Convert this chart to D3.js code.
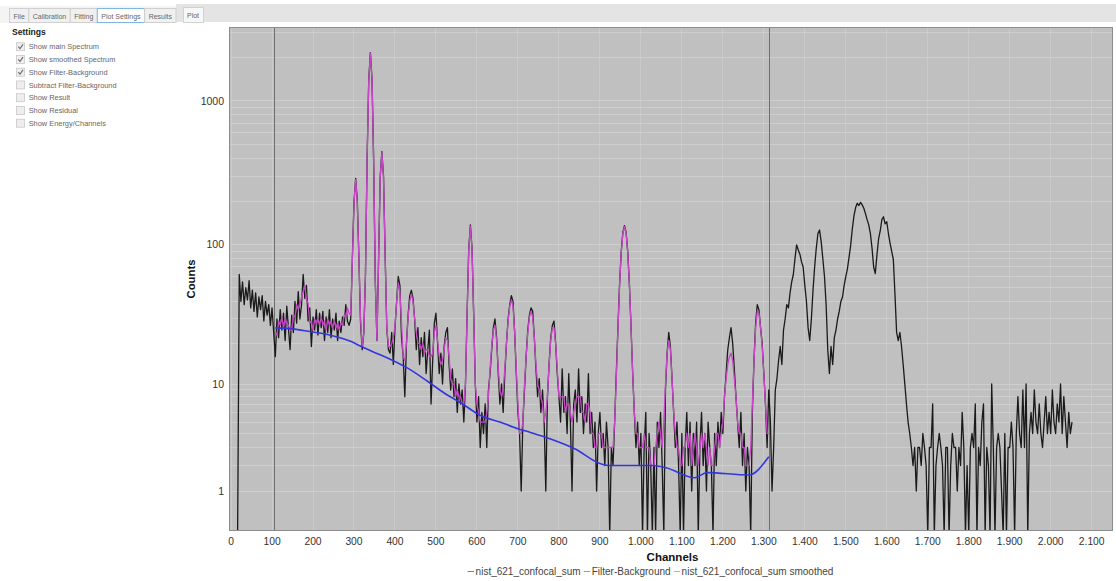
<!DOCTYPE html>
<html>
<head>
<meta charset="utf-8">
<script src="https://cdn.jsdelivr.net/npm/d3@7"></script>
<style>
  html, body { margin: 0; padding: 0; background: #ffffff; }
  svg { display: block; font-family: "Liberation Sans", Arial, sans-serif; }
</style>
</head>
<body>
<svg id="chart" width="1116" height="581"></svg>
<script>
// ---- spectrum data -------------------------------------------------------
// main spectrum, one value every 4 channels starting at channel 0
const channelStep = 4;
const counts = [
  0, 0, 0, 0, 0, 62, 40, 55, 38, 50, 41, 56, 36, 48, 34, 46, 31, 43, 35, 44, 29, 40, 32, 38, 27,
  36, 24, 16, 30, 22, 35, 25, 33, 21, 37, 26, 18, 32, 24, 40, 28, 47, 30, 38, 62, 42, 52, 29, 36, 19,
  31, 25, 35, 23, 33, 26, 34, 21, 31, 24, 35, 22, 30, 25, 33, 21, 29, 24, 31, 27, 38, 29, 27, 30, 80,
  200, 290, 205, 80, 28, 18, 24, 62, 400, 1400, 2160, 1400, 380, 55, 21, 80, 300, 445, 300, 85, 26, 18, 17, 24, 14,
  26, 40, 60, 52, 22, 16, 8, 20, 32, 44, 48, 42, 30, 18, 26, 14, 22, 16, 24, 12, 18, 25, 7, 15, 28,
  33, 20, 12, 17, 10, 19, 24, 26, 14, 9, 13, 8, 11, 6, 10, 7, 9, 5, 10, 33, 94, 138, 94, 33, 10,
  5, 8, 3, 6, 4, 7, 3, 9, 12, 18, 26, 30, 22, 12, 7, 10, 6, 12, 20, 30, 38, 44, 40, 24, 12,
  6, 4, 1, 5, 9, 16, 25, 32, 36, 34, 22, 13, 8, 11, 6, 9, 5, 1, 8, 14, 22, 27, 29, 20, 12,
  8, 5, 13, 6, 8, 4, 12, 5, 1, 7, 9, 5, 13, 6, 8, 4, 7, 5, 12, 4, 6, 3, 5, 1, 4,
  6, 3, 4, 2, 5, 3, 0, 3, 2, 5, 12, 26, 53, 89, 122, 136, 122, 89, 53, 26, 12, 6, 3, 5, 2,
  4, 0, 3, 6, 0, 4, 2, 0, 3, 0, 5, 3, 6, 2, 0, 9, 17, 24, 19, 11, 6, 3, 5, 2, 0,
  4, 0, 3, 6, 2, 5, 1, 4, 2, 5, 0, 3, 6, 2, 4, 1, 5, 3, 2, 0, 4, 2, 5, 3, 6,
  4, 8, 12, 18, 22, 26, 20, 13, 8, 5, 3, 6, 2, 4, 1, 3, 2, 0, 6, 15, 28, 38, 35, 26, 20,
  12, 7, 3, 9, 5, 1, 3, 9, 11, 15, 19, 14, 25, 30, 38, 36, 46, 55, 62, 80, 100, 92, 86, 76, 70,
  52, 40, 26, 21, 30, 48, 70, 95, 120, 127, 105, 80, 60, 38, 18, 12, 19, 14, 22, 25, 30, 34, 40, 43, 52,
  60, 68, 82, 100, 130, 160, 182, 195, 188, 198, 190, 180, 165, 150, 138, 120, 95, 70, 63, 85, 110, 125, 150, 157, 140,
  145, 120, 103, 90, 79, 45, 24, 21, 24, 19, 14, 10, 7, 5, 4, 3, 2, 3, 1, 3, 3, 2, 4, 3, 2,
  0, 3, 3, 7, 0, 2, 3, 4, 3, 2, 0, 3, 3, 0, 2, 4, 3, 3, 1, 3, 2, 6, 3, 0, 2,
  0, 3, 4, 3, 7, 0, 3, 2, 5, 7, 0, 3, 2, 0, 10, 3, 0, 3, 4, 3, 1, 0, 4, 0, 3,
  3, 5, 3, 0, 4, 8, 4, 3, 9, 3, 10, 0, 4, 6, 4, 9, 5, 4, 7, 4, 3, 5, 8, 4, 6,
  4, 9, 5, 4, 7, 5, 10, 4, 8, 5, 3, 6, 4, 5
];

// smoothed spectrum inside the fit region, every 4 channels from channel 108
const smoothStart = 108;
const smoothed = [
  24, 23, 29, 27, 31, 26, 30, 28, 27, 25, 25, 32, 31, 38, 35, 38, 43, 47, 52, 41, 39, 28, 29, 25, 30,
  28, 30, 27, 31, 27, 29, 25, 30, 27, 29, 26, 29, 26, 28, 25, 28, 27, 32, 31, 36, 33, 32, 78, 195, 285,
  200, 80, 30, 19, 24, 62, 400, 1390, 2140, 1390, 380, 55, 21, 80, 295, 440, 295, 82, 26, 19, 19, 20, 22, 27, 40,
  54, 46, 28, 16, 15, 20, 31, 40, 45, 40, 30, 24, 20, 20, 18, 20, 17, 18, 18, 16, 16, 17, 24, 27, 21,
  16, 14, 15, 18, 22, 21, 16, 11, 10, 10, 8, 9, 8, 8, 7, 7, 10, 32, 92, 135, 92, 32, 10, 7, 6,
  5, 5, 5, 5, 6, 8, 13, 19, 25, 27, 21, 13, 9, 8, 9, 13, 20, 29, 37, 41, 37, 24, 13, 7, 4,
  4, 5, 10, 16, 24, 31, 34, 31, 22, 14, 10, 9, 8, 7, 5, 6, 8, 14, 21, 26, 26, 20, 13, 8, 8,
  8, 8, 6, 7, 7, 6, 5, 6, 7, 8, 8, 8, 6, 6, 5, 7, 7, 6, 4, 4, 3, 3, 4, 4, 4,
  3, 3, 3, 3, 3, 3, 3, 5, 11, 25, 52, 88, 120, 134, 120, 88, 52, 26, 12, 6, 4, 4, 3, 3, 3,
  4, 3, 3, 3, 2, 2, 2, 3, 4, 5, 4, 3, 5, 10, 17, 21, 18, 11, 6, 4, 3, 3, 2, 2, 3,
  3, 4, 3, 4, 2, 3, 4, 3, 2, 3, 4, 3, 4, 3, 2, 3, 2, 2, 3, 4, 4, 3, 4, 5, 8,
  11, 14, 16, 17, 15, 11, 8, 5, 4, 4, 3, 3, 2, 2, 2, 3, 7, 15, 26, 34, 33, 26, 19, 12, 7,
  4, 4
];

// filter background (channel, counts)
const bgChannels = [108, 150, 195, 230, 261, 290, 318, 350, 383, 432, 481, 521, 562, 611, 656, 700, 729, 778, 840, 900, 924, 1029, 1061, 1132, 1161, 1263, 1312];
const bgValues   = [25.9, 25.5, 24.3, 23.4, 22.2, 20.8, 19, 17.2, 15.6, 13.1, 10.4, 8.5, 7.1, 5.6, 5.0, 4.4, 4.1, 3.6, 2.9, 2.1, 2.0, 2.0, 1.9, 1.47, 1.68, 1.58, 2.45];

// fit region markers
const roiChannels = [107, 1314];

// axes
const xTicks = d3.range(0, 2101, 100);
const yTicks = [1, 10, 100, 1000];
const yMinorTicks = [2, 3, 4, 5, 6, 7, 8, 9, 20, 30, 40, 50, 60, 70, 80, 90,
                     200, 300, 400, 500, 600, 700, 800, 900, 2000, 3000];

// side panel
const panelTabs = ["File", "Calibration", "Fitting", "Plot Settings", "Results"];
const activeTab = "Plot Settings";
const settingLabels = ["Show main Spectrum", "Show smoothed Spectrum", "Show Filter-Background",
                       "Subtract Filter-Background", "Show Result", "Show Residual", "Show Energy/Channels"];
const settingChecked = [true, true, true, false, false, false, false];

const seriesNames = ["nist_621_confocal_sum", "Filter-Background", "nist_621_confocal_sum smoothed"];
const seriesColors = ["#1a1a1a", "#3535e0", "#c846c8"];

// ---- drawing -------------------------------------------------------------
const svg = d3.select("#chart");
const plot = { left: 229, top: 27, right: 1113, bottom: 531 };

const x = d3.scaleLinear().domain([-5, 2152]).range([plot.left, plot.right]);
const y = d3.scaleSymlog().constant(1).domain([0, 3250]).range([534.5, plot.top]);

const deFormat = d3.formatLocale({ decimal: ",", thousands: ".", grouping: [3], currency: ["", " €"] }).format(",d");

// tab strips
svg.append("rect").attr("x", 0).attr("y", 0).attr("width", 1116).attr("height", 581).attr("fill", "#ffffff");
svg.append("rect").attr("x", 176).attr("y", 4).attr("width", 940).attr("height", 18).attr("fill", "#e4e4e4");
svg.append("rect").attr("x", 0).attr("y", 6).attr("width", 176).attr("height", 17).attr("fill", "#f4f4f4");

const tabG = svg.append("g");
let tx = 9;
panelTabs.forEach(name => {
  const t = tabG.append("text").attr("y", 18.5).attr("font-size", 7).attr("fill", "#666").text(name);
  const w = t.node().getComputedTextLength() + 8;
  const active = name === activeTab;
  tabG.insert("rect", "text")
    .attr("x", tx + 0.5).attr("y", 8.5).attr("width", w).attr("height", 14)
    .attr("fill", active ? "#ffffff" : "#f0f0f0")
    .attr("stroke", active ? "#7fb8de" : "#d0d0d0");
  t.attr("x", tx + 4.5);
  tx += w;
});

const plotTab = svg.append("g");
plotTab.append("rect").attr("x", 183.5).attr("y", 7.5).attr("width", 20).attr("height", 15)
  .attr("fill", "#f7f7f7").attr("stroke", "#d2d2d2");
plotTab.append("text").attr("x", 187).attr("y", 17.5).attr("font-size", 7).attr("fill", "#666").text("Plot");

// settings panel
svg.append("text").attr("x", 12).attr("y", 35).attr("font-size", 8.6).attr("font-weight", "bold")
  .attr("fill", "#222").text("Settings");
const rowsG = svg.append("g");
settingLabels.forEach((label, i) => {
  const cy = 46.7 + i * 12.75;
  rowsG.append("rect").attr("x", 16.5).attr("y", cy - 4).attr("width", 8).attr("height", 8)
    .attr("fill", "#eeeeee").attr("stroke", "#c8c8c8").attr("stroke-width", 0.8);
  if (settingChecked[i]) {
    rowsG.append("path").attr("d", `M18.3,${cy} L20,${cy + 2} L23,${cy - 2.3}`)
      .attr("fill", "none").attr("stroke", "#666").attr("stroke-width", 1.1);
  }
  rowsG.append("text").attr("x", 28.7).attr("y", cy + 2.6).attr("font-size", 7.4)
    .attr("fill", "#666").text(label);
});

// plot area
svg.append("rect").attr("x", plot.left).attr("y", plot.top)
  .attr("width", plot.right - plot.left).attr("height", plot.bottom - plot.top)
  .attr("fill", "#c0c0c0");

svg.append("clipPath").attr("id", "plotClip").append("rect")
  .attr("x", plot.left).attr("y", plot.top)
  .attr("width", plot.right - plot.left).attr("height", plot.bottom - plot.top);

const grid = svg.append("g").attr("clip-path", "url(#plotClip)").attr("shape-rendering", "crispEdges");
grid.selectAll("line.v").data(xTicks).join("line").attr("class", "v")
  .attr("x1", d => x(d)).attr("x2", d => x(d)).attr("y1", plot.top).attr("y2", plot.bottom)
  .attr("stroke", "#cacaca").attr("stroke-width", 1);
grid.selectAll("line.h").data(yMinorTicks.concat(yTicks)).join("line").attr("class", "h")
  .attr("x1", plot.left).attr("x2", plot.right).attr("y1", d => y(d)).attr("y2", d => y(d))
  .attr("stroke", "#cecece").attr("stroke-width", 1);

const marks = svg.append("g").attr("clip-path", "url(#plotClip)");

const mainPts = counts.map((v, i) => [i * channelStep, v]);
const smoothPts = smoothed.map((v, i) => [smoothStart + i * channelStep, v]);
const bgPts = bgChannels.map((c, i) => [c, bgValues[i]]);

const line = d3.line().x(d => x(d[0])).y(d => y(d[1]));

marks.selectAll("line.roi").data(roiChannels).join("line").attr("class", "roi")
  .attr("x1", d => x(d)).attr("x2", d => x(d)).attr("y1", plot.top).attr("y2", plot.bottom)
  .attr("stroke", "#6f6f6f").attr("stroke-width", 1).attr("shape-rendering", "crispEdges");

marks.append("path").datum(mainPts).attr("d", line)
  .attr("fill", "none").attr("stroke", seriesColors[0]).attr("stroke-width", 1.3)
  .attr("stroke-linejoin", "round");
marks.append("path").datum(smoothPts).attr("d", line)
  .attr("fill", "none").attr("stroke", seriesColors[2]).attr("stroke-width", 1.3)
  .attr("stroke-linejoin", "round");
marks.append("path").datum(bgPts).attr("d", line.curve(d3.curveMonotoneX))
  .attr("fill", "none").attr("stroke", seriesColors[1]).attr("stroke-width", 1.6);

svg.append("rect").attr("x", plot.left + 0.5).attr("y", plot.top + 0.5)
  .attr("width", plot.right - plot.left - 1).attr("height", plot.bottom - plot.top - 1)
  .attr("fill", "none").attr("stroke", "#8c8c8c");

// axis labels
svg.append("g").selectAll("text").data(yTicks).join("text")
  .attr("x", 224).attr("y", d => y(d) + 3.6).attr("text-anchor", "end")
  .attr("font-size", 10.5).attr("fill", "#333").text(d => d);

svg.append("g").selectAll("text").data(xTicks).join("text")
  .attr("x", d => x(d)).attr("y", 544.5).attr("text-anchor", "middle")
  .attr("font-size", 10.3).attr("fill", "#333").text(d => deFormat(d));

svg.append("text").attr("x", 672.5).attr("y", 560.5).attr("text-anchor", "middle")
  .attr("font-size", 11.5).attr("font-weight", "bold").attr("fill", "#111").text("Channels");

svg.append("text").attr("transform", "translate(195,279) rotate(-90)").attr("text-anchor", "middle")
  .attr("font-size", 11.3).attr("font-weight", "bold").attr("fill", "#111").text("Counts");

// legend
const legend = svg.append("g");
let lx = 0;
[0, 1, 2].forEach(k => {
  const g = legend.append("g");
  g.append("line").attr("x1", 0).attr("x2", 6.5).attr("y1", 0).attr("y2", 0)
    .attr("stroke", seriesColors[k]).attr("stroke-width", 1).attr("opacity", 0.55);
  const t = g.append("text").attr("x", 8).attr("y", 3.6).attr("font-size", 10)
    .attr("fill", "#444").text(seriesNames[k]);
  const w = 8 + t.node().getComputedTextLength() + 3;
  g.attr("transform", `translate(${lx},0)`);
  lx += w;
});
legend.attr("transform", `translate(${650.5 - (lx - 3) / 2},${571.5})`);
</script>
</body>
</html>
